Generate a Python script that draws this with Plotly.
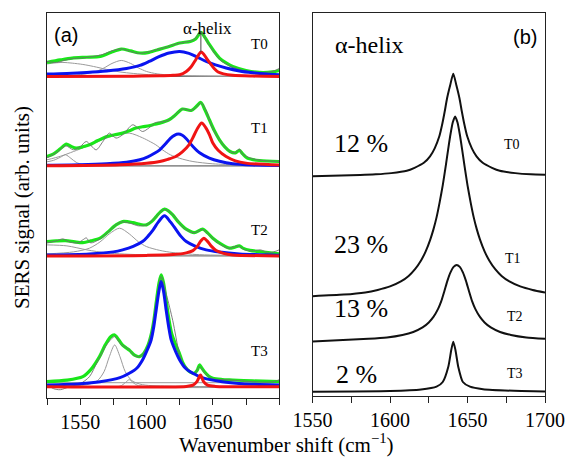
import plotly.graph_objects as go

# ---------------- data (wavenumber in cm^-1, intensity in arb. units) ----------------
SAMPLES = ["T0", "T1", "T2", "T3"]
HELIX_PCT = [12, 23, 13, 2]

# vertical offsets of the stacked spectra
OFFSET_A = [321.3, 232.0, 142.0, 11.3]
OFFSET_B = [218.5, 98.5, 53.5, 4.0]

# ---- panel (a): T0 ----
T0_FIT = [(1525, 14), (1535, 16.5), (1544, 18.4), (1555, 19.2), (1565, 20), (1573, 24), (1581, 27.4),
          (1588, 25.5), (1595, 23.4), (1601, 23.8), (1608, 26.5), (1617, 30), (1625, 33.4), (1633, 35),
          (1637, 37.5), (1641, 44), (1644, 39), (1647.5, 31.7), (1651, 25), (1655, 18.4), (1660, 13.5),
          (1665, 10), (1675, 6), (1685, 4), (1695, 4.5), (1700, 6)]
T0_RAW = [(1525, 15), (1532, 14), (1538, 16), (1545, 18), (1552, 18.5), (1560, 20), (1567, 22), (1574, 25.5),
          (1581, 27.5), (1588, 25), (1594, 23), (1600, 24), (1607, 26.5), (1614, 29), (1620, 31.5),
          (1626, 33.5), (1632, 35), (1636, 37), (1641, 44.5), (1646, 34), (1651, 24), (1656, 16),
          (1662, 11), (1670, 7), (1678, 5), (1686, 4), (1693, 4.5), (1697, 6), (1700, 8)]
T0_BAND = [(1525, 2.4), (1540, 3), (1555, 4), (1570, 5.5), (1585, 8), (1595, 11), (1602, 15), (1609, 19.5),
           (1617, 23.4), (1625, 25), (1632, 23), (1638, 19.5), (1645, 15), (1652, 11.5), (1660, 8.4),
           (1670, 5.5), (1680, 3.7), (1690, 2.5), (1700, 1.8)]
T0_HELIX = [(1525, 0), (1590, 0.3), (1610, 0.7), (1620, 1.2), (1625, 1.7), (1630, 5), (1633.5, 9.5),
            (1637, 16.5), (1639.5, 22), (1641, 24.4), (1643, 22.5), (1645.5, 17.5), (1648, 13), (1651, 8),
            (1654, 4.5), (1658, 2.6), (1665, 1.2), (1680, 0.4), (1700, 0)]
T0_G1 = [(1525, 12.5), (1531, 13.5), (1537, 14), (1544, 13.3), (1552, 12), (1560, 10), (1570, 7),
         (1580, 4.5), (1590, 3), (1605, 1.5), (1620, 0.8), (1650, 0.3), (1700, 0)]
T0_G2 = [(1525, 0.3), (1545, 1.2), (1555, 2.8), (1562, 5), (1568, 8.5), (1574, 13), (1581, 16), (1588, 13),
         (1594, 8.5), (1600, 5), (1608, 2.6), (1620, 1.2), (1640, 0.5), (1700, 0.1)]

# ---- panel (a): T1 ----
T1_FIT = [(1525, 9.3), (1530, 12), (1535, 17), (1539.6, 21.7), (1543, 19.5), (1547, 17.7), (1552, 19),
          (1557, 21), (1563, 25), (1570, 29.3), (1576, 31), (1582, 32.7), (1587, 35), (1592, 37.7),
          (1597, 39), (1602, 40), (1606, 41.5), (1610, 42.7), (1617, 46), (1622, 51), (1627, 56.7),
          (1633.6, 55.3), (1637, 58.5), (1641, 63.3), (1644, 56), (1647.4, 46), (1651, 35.5), (1655, 26),
          (1659, 19), (1663, 14.3), (1667, 13), (1670, 15.5), (1672.5, 12), (1676, 7.7), (1685, 5.3),
          (1700, 4.3)]
T1_RAW = [(1525, 8), (1533, 14), (1539, 20), (1545, 16), (1550, 19), (1554.6, 24.3), (1562, 16), (1567, 24),
          (1572, 32.7), (1577, 27.7), (1582, 31), (1589.7, 41), (1597, 34.3), (1602, 38), (1607, 43.3),
          (1613, 44), (1618, 46.5), (1624, 54), (1628, 57), (1633, 55), (1637, 58), (1641, 63), (1645, 55),
          (1649, 40), (1655, 26), (1662, 15), (1667, 13), (1670, 17), (1672, 12), (1680, 7), (1690, 5),
          (1700, 4.5)]
T1_BAND = [(1525, 0.5), (1550, 1), (1570, 2), (1585, 3.5), (1595, 6), (1601, 9), (1606, 12.5), (1610, 16),
           (1614, 21.5), (1618, 27.5), (1621, 30.5), (1624, 31.7), (1627, 30.5), (1630, 27), (1635, 19.3),
           (1640, 13), (1647.4, 7.7), (1655, 4.5), (1665, 2), (1680, 0.8), (1700, 0.3)]
T1_HELIX = [(1525, 0), (1580, 1), (1600, 2.5), (1610, 4.3), (1616, 6.5), (1622, 9.3), (1627, 14), (1632, 21),
            (1635.5, 29.5), (1638.5, 37.5), (1641.6, 42.7), (1644.5, 38.5), (1647.5, 31), (1650, 22.7),
            (1654, 15.5), (1660, 9.3), (1667, 5), (1675, 2.7), (1700, 0.8)]
T1_G1 = [(1525, 6), (1535, 9.5), (1545, 14.3), (1555, 19.5), (1565, 25), (1575, 30), (1587, 32.7),
         (1597, 28), (1603, 24), (1607, 21), (1612, 16), (1618, 11), (1625, 7.5), (1635, 4.3), (1650, 2),
         (1670, 1), (1700, 0.5)]
T1_G2 = [(1525, 4), (1530, 5.5), (1535, 8.5), (1539, 11), (1543, 7.5), (1547, 3.5), (1552, 1.2),
         (1560, 0.3), (1700, 0)]

# ---- panel (a): T2 ----
T2_FIT = [(1525, 14.3), (1532, 15), (1539, 15.3), (1546, 14), (1552, 13.3), (1558, 15), (1565, 17.7),
          (1571, 24), (1577, 31), (1582, 34.3), (1589.7, 33.3), (1595, 31.5), (1600, 31), (1604, 34.5),
          (1607.3, 39.3), (1610.5, 44), (1613.6, 46.7), (1616.5, 45), (1619.8, 41), (1624, 34),
          (1629.9, 26.7), (1636, 23.3), (1642.4, 26.7), (1646, 23), (1650, 17.7), (1656, 12),
          (1662.5, 7.7), (1666, 8.5), (1670, 10), (1673, 7.5), (1678, 5.5), (1685, 4.3), (1700, 2)]
T2_RAW = [(1525, 13), (1532, 15), (1537, 17), (1542, 14), (1548, 13), (1552, 16), (1554.6, 18), (1558, 13),
          (1565, 17), (1572, 25), (1578, 32), (1582, 34), (1588, 32.5), (1594, 30), (1600, 31), (1607, 39),
          (1613.6, 46.5), (1620, 41), (1628, 28), (1636, 23), (1642, 26.5), (1648, 20), (1655, 12),
          (1662, 7.5), (1669, 10), (1674, 6), (1680, 5), (1686, 6), (1692, 3), (1697, 4.5), (1700, 6)]
T2_BAND = [(1525, 1), (1557, 2), (1575, 4), (1582, 6), (1590, 9.5), (1597, 14.3), (1601, 19.5), (1605, 26),
           (1609, 34), (1613.6, 40), (1618, 34), (1622.4, 26), (1626, 19.5), (1630, 14.3), (1637, 9.5),
           (1645, 6), (1655, 3.8), (1670, 2), (1700, 0.7)]
T2_HELIX = [(1525, 0), (1600, 0.5), (1620, 1.3), (1630, 3), (1635, 5.3), (1638, 9), (1641, 15),
            (1643.2, 17.7), (1646, 14.5), (1649, 9.5), (1652.5, 5.3), (1658, 2.5), (1665, 1), (1700, 0)]
T2_G1 = [(1525, 2), (1545, 4), (1557, 7.7), (1565, 14), (1572, 22), (1579.7, 27.7), (1587, 22), (1594, 14),
         (1600, 9.3), (1610, 5.5), (1620, 3.3), (1640, 1.2), (1700, 0.3)]
T2_G2 = [(1525, 11), (1540, 10), (1555, 6), (1570, 3), (1600, 1), (1700, 0)]

# ---- panel (a): T3 ----
T3_FIT = [(1525, 5), (1540, 6.5), (1552, 10), (1558, 17), (1564.6, 30), (1569, 42), (1573, 50), (1576, 51.7),
          (1579, 47), (1582, 41.5), (1585, 38.5), (1587.5, 36), (1591, 31.5), (1594.7, 30), (1598, 33.5),
          (1601, 41), (1603.5, 52), (1605.5, 66), (1607.5, 86), (1609.5, 104), (1611.1, 111.7),
          (1612.8, 104), (1614.8, 86), (1616.8, 68), (1619, 53), (1622, 42), (1624.8, 33.4), (1627, 25),
          (1629.9, 18.4), (1633, 14.5), (1636, 13.4), (1638.3, 16.5), (1639.9, 21.7), (1641.5, 19),
          (1643.7, 15), (1647, 10.5), (1650, 8.4), (1657, 7.2), (1665, 6.7), (1680, 5.8), (1700, 5)]
T3_RAW = [(1525, 2), (1530, -2), (1535, -3), (1542, 0), (1550, 3), (1557, 10), (1563, 25), (1570, 42),
          (1576, 50), (1581, 42), (1586, 38), (1591, 31), (1595, 30), (1600, 38), (1604, 56), (1607.5, 86),
          (1611, 110), (1615, 92), (1619.8, 66), (1624.8, 33), (1628, 22), (1630, 20), (1633, 14),
          (1636, 12), (1640, 20), (1643.7, 14), (1650, 8), (1660, 7), (1670, 6), (1680, 5), (1690, 4.5),
          (1696, 5), (1700, 7)]
T3_BAND = [(1525, 1.7), (1550, 3), (1565, 5), (1580, 9), (1587, 13.4), (1593, 19), (1597, 26.7), (1600, 35),
           (1603.5, 46.7), (1605.5, 60), (1607.3, 76.7), (1609.3, 95), (1611, 105), (1612.9, 95),
           (1614.8, 76.7), (1616.7, 60), (1618.6, 46.7), (1622, 35), (1625, 26.7), (1629, 19),
           (1635, 13.4), (1642, 9), (1657, 5), (1672, 3), (1700, 1.7)]
T3_HELIX = [(1525, 0), (1630, 0.3), (1635, 1.5), (1638, 5), (1640.7, 11.7), (1643, 5), (1646, 1.5),
            (1652, 0.3), (1700, 0)]
T3_G1 = [(1525, 0.3), (1555, 2), (1563, 6), (1568, 15), (1572, 30), (1576, 41.7), (1580, 30), (1584, 15),
         (1589, 6), (1597, 2), (1620, 0.5), (1700, 0)]
T3_G2 = [(1525, 0), (1580, 0.5), (1584, 4), (1587, 7), (1590, 4), (1594, 1), (1700, 0)]
T3_BG = [(1525, 4), (1700, 4)]

# ---- panel (b): isolated alpha-helix bands ----
B_T0 = [(1550, 1), (1580.8, 2.3), (1590.8, 3), (1600.8, 4.2), (1610.8, 6.5), (1615.8, 9.5), (1621.8, 14.5),
        (1625.8, 21), (1628.8, 29), (1631.8, 41), (1633.8, 54), (1635.3, 66), (1636.8, 79), (1638.8, 92),
        (1640.8, 103.5), (1642.8, 92), (1644.8, 79), (1646.3, 66), (1647.8, 54), (1649.8, 41),
        (1652.8, 29), (1655.8, 21), (1659.8, 14.5), (1665.8, 9.5), (1670.8, 6.5), (1680.8, 4.2),
        (1690.8, 3), (1700, 2.5)]
B_T1 = [(1550, 1.2), (1570, 2.8), (1584, 5), (1592, 7.5), (1600, 11), (1607, 16), (1612, 21.5), (1616, 28),
        (1620, 37), (1623, 46), (1626, 58), (1628, 68), (1630, 80), (1632, 95), (1634, 112), (1636, 132),
        (1637.5, 148), (1639, 163), (1640.5, 175), (1642, 180.8), (1643.5, 175), (1645, 163),
        (1646.5, 148), (1648, 132), (1650, 112), (1652, 95), (1654, 80), (1656, 68), (1658, 58),
        (1661, 46), (1664, 37), (1668, 28), (1672, 21.5), (1677, 16), (1684, 11), (1692, 7.5), (1700, 5)]
B_T2 = [(1550, 1), (1586, 3.6), (1598, 5), (1608, 7.5), (1615, 10.5), (1621, 15), (1625, 20), (1628, 25.5),
        (1631, 33.5), (1633, 41), (1635, 51), (1637, 61.5), (1639, 70), (1641, 75.5), (1643, 77.5),
        (1645, 75.5), (1647, 70), (1649, 61.5), (1651, 51), (1653, 41), (1655, 33.5), (1658, 25.5),
        (1661, 20), (1665, 15), (1671, 10.5), (1678, 7.5), (1688, 5), (1700, 3.6)]
B_T3 = [(1550, 0.3), (1600, 1), (1620, 2.5), (1630, 5.3), (1634, 10), (1637.6, 25.3), (1639.5, 42),
        (1640.8, 50.3), (1642.2, 42), (1644, 25.3), (1647, 10), (1651.6, 5.3), (1660, 2.8), (1680, 1.2),
        (1700, 0.6)]

FIT = [T0_FIT, T1_FIT, T2_FIT, T3_FIT]
RAW = [T0_RAW, T1_RAW, T2_RAW, T3_RAW]
BAND = [T0_BAND, T1_BAND, T2_BAND, T3_BAND]
HELIX = [T0_HELIX, T1_HELIX, T2_HELIX, T3_HELIX]
GRAY = [[T0_G1, T0_G2], [T1_G1, T1_G2], [T2_G1, T2_G2], [T3_G1, T3_G2, T3_BG]]
BPANEL = [B_T0, B_T1, B_T2, B_T3]

XA_RANGE = [1525, 1700]
XB_RANGE = [1550, 1700]

# ---------------- styles ----------------
GREEN = "#19e619"
BLUE = "#0a14f0"
RED = "#f01414"
GRAYC = "#9a9a9a"
RAWC = "#6e6e6e"
SERIF = "Liberation Serif"
SANS = "Liberation Sans"

fig = go.Figure()


def add(pts, off, color, width, xa="x", ya="y", shape="spline", smooth=0.8):
    fig.add_trace(go.Scatter(
        x=[p[0] for p in pts], y=[off + p[1] for p in pts], mode="lines",
        line=dict(color=color, width=width, shape=shape, smoothing=smooth),
        xaxis=xa, yaxis=ya, hoverinfo="skip", showlegend=False))


for i in range(4):
    off = OFFSET_A[i]
    add([(XA_RANGE[0], 0), (XA_RANGE[1], 0)], off, "#555555", 1, shape="linear")
    for g in GRAY[i]:
        add(g, off, GRAYC, 1)
    add(FIT[i], off, GREEN, 3.2)
    add(RAW[i], off, RAWC, 0.9)
    add(BAND[i], off, BLUE, 3)
    add(HELIX[i], off, RED, 3)

for i in range(4):
    add(BPANEL[i], OFFSET_B[i], "#111111", 2, xa="x2", ya="y2", smooth=0.6)

# alpha-helix marker line in panel (a)
pk_x = max(T0_HELIX, key=lambda p: p[1])[0]
fig.add_shape(type="line", xref="x", yref="y",
              x0=pk_x, x1=pk_x,
              y0=OFFSET_A[0] + max(p[1] for p in T0_HELIX),
              y1=OFFSET_A[0] + max(p[1] for p in T0_FIT) + 1,
              line=dict(color="#444444", width=1))

axis_common = dict(showline=True, mirror=True, linecolor="#222222", linewidth=1.3,
                   showgrid=False, zeroline=False, automargin=False)
xt_common = dict(ticks="outside", ticklen=6, tickwidth=1.2, tickcolor="#222222",
                 tickfont=dict(family=SERIF, size=20, color="black"),
                 minor=dict(dtick=25, tick0=1525, ticks="outside", ticklen=6, tickwidth=1.2,
                            tickcolor="#222222", showgrid=False))

fig.update_layout(
    width=568, height=457,
    margin=dict(l=47, r=23, t=13, b=59, pad=0, autoexpand=False),
    paper_bgcolor="white", plot_bgcolor="white", showlegend=False,
    xaxis=dict(domain=[0, 0.4662], range=XA_RANGE, tickvals=[1550, 1600, 1650], anchor="y",
               **axis_common, **xt_common),
    yaxis=dict(domain=[0, 1], range=[0, 384.7], showticklabels=False, ticks="",
               anchor="x", **axis_common),
    xaxis2=dict(domain=[0.5333, 1], range=XB_RANGE, tickvals=[1550, 1600, 1650, 1700], anchor="y2",
                **axis_common, **xt_common),
    yaxis2=dict(domain=[0.0052, 1], range=[0, 382.7], showticklabels=False, ticks="",
                anchor="x2", **axis_common),
)


def ann(text, x, y, size, family=SERIF, angle=0):
    fig.add_annotation(text=text, x=x, y=y, xref="paper", yref="paper", showarrow=False,
                       xanchor="center", yanchor="middle", textangle=angle,
                       font=dict(family=family, size=size, color="black"))


ann("(a)", 0.0376, 0.9436, 20, family=SANS)
ann("(b)", 0.9599, 0.9384, 20, family=SANS)
ann("α-helix", 0.3229, 0.9590, 17)
for s, yp in zip(SAMPLES, [0.9189, 0.7005, 0.4354, 0.1222]):
    ann(s, 0.4270, yp, 15)

ann("α-helix", 0.6484, 0.9176, 24)
for pct, yp in zip(HELIX_PCT, [0.6621, 0.3977, 0.2313, 0.0598]):
    ann(f"{pct} %", 0.6303 if pct >= 10 else 0.6217, yp, 26)
for s, xp, yp in zip(SAMPLES, [0.9347, 0.9357, 0.9397, 0.9397], [0.6577, 0.3613, 0.2113, 0.0624]):
    ann(s, xp, yp, 14)

ann("Wavenumber shift (cm<sup>−1</sup>)", 0.4806, -0.117, 21)
ann("SERS signal (arb. units)", -0.0488, 0.4952, 21, angle=-90)

fig.write_html("out.html")
